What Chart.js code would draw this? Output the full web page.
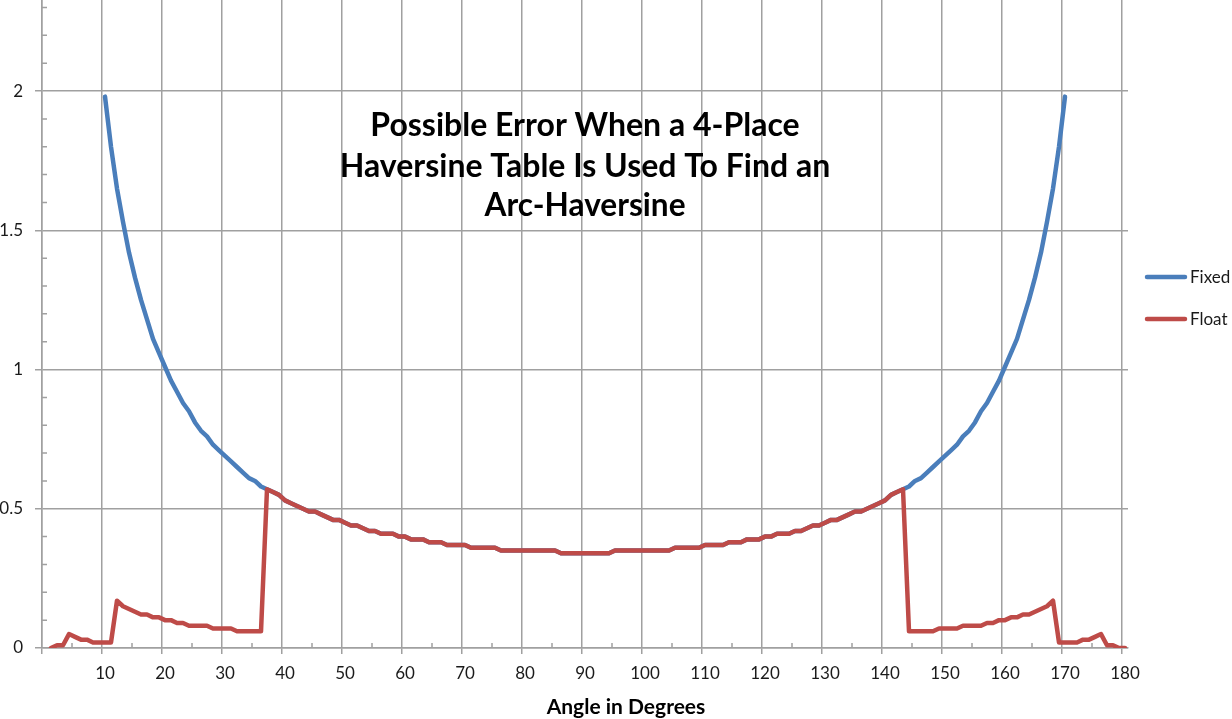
<!DOCTYPE html>
<html>
<head>
<meta charset="utf-8">
<title>Haversine table error</title>
<script src="https://cdn.jsdelivr.net/npm/chart.js@4.4.1/dist/chart.umd.min.js"></script>
<style>
  html, body { margin: 0; padding: 0; background: #fff; overflow: hidden; }
  #wrap { position: relative; width: 1232px; height: 719px; }
</style>
</head>
<body>
<div id="wrap"><canvas id="chart"></canvas></div>
<script>
// categories: angle in degrees, 0..180
const angles = [
  0, 1, 2, 3, 4, 5, 6, 7, 8, 9, 10, 11, 12, 13, 14, 15, 16, 17, 18, 19,
  20, 21, 22, 23, 24, 25, 26, 27, 28, 29, 30, 31, 32, 33, 34, 35, 36, 37, 38, 39,
  40, 41, 42, 43, 44, 45, 46, 47, 48, 49, 50, 51, 52, 53, 54, 55, 56, 57, 58, 59,
  60, 61, 62, 63, 64, 65, 66, 67, 68, 69, 70, 71, 72, 73, 74, 75, 76, 77, 78, 79,
  80, 81, 82, 83, 84, 85, 86, 87, 88, 89, 90, 91, 92, 93, 94, 95, 96, 97, 98, 99,
  100, 101, 102, 103, 104, 105, 106, 107, 108, 109, 110, 111, 112, 113, 114, 115, 116, 117, 118, 119,
  120, 121, 122, 123, 124, 125, 126, 127, 128, 129, 130, 131, 132, 133, 134, 135, 136, 137, 138, 139,
  140, 141, 142, 143, 144, 145, 146, 147, 148, 149, 150, 151, 152, 153, 154, 155, 156, 157, 158, 159,
  160, 161, 162, 163, 164, 165, 166, 167, 168, 169, 170, 171, 172, 173, 174, 175, 176, 177, 178, 179,
  180
];

// "Fixed" series, angles 10..170
const fixedStart = 10;
const fixedError = [
  1.98, 1.80, 1.65, 1.53, 1.42, 1.33, 1.25, 1.18, 1.11, 1.06,
  1.01, 0.96, 0.92, 0.88, 0.85, 0.81, 0.78, 0.76, 0.73, 0.71,
  0.69, 0.67, 0.65, 0.63, 0.61, 0.60, 0.58, 0.57, 0.56, 0.55,
  0.53, 0.52, 0.51, 0.50, 0.49, 0.49, 0.48, 0.47, 0.46, 0.46,
  0.45, 0.44, 0.44, 0.43, 0.42, 0.42, 0.41, 0.41, 0.41, 0.40,
  0.40, 0.39, 0.39, 0.39, 0.38, 0.38, 0.38, 0.37, 0.37, 0.37,
  0.37, 0.36, 0.36, 0.36, 0.36, 0.36, 0.35, 0.35, 0.35, 0.35,
  0.35, 0.35, 0.35, 0.35, 0.35, 0.35, 0.34, 0.34, 0.34, 0.34,
  0.34, 0.34, 0.34, 0.34, 0.34, 0.35, 0.35, 0.35, 0.35, 0.35,
  0.35, 0.35, 0.35, 0.35, 0.35, 0.36, 0.36, 0.36, 0.36, 0.36,
  0.37, 0.37, 0.37, 0.37, 0.38, 0.38, 0.38, 0.39, 0.39, 0.39,
  0.40, 0.40, 0.41, 0.41, 0.41, 0.42, 0.42, 0.43, 0.44, 0.44,
  0.45, 0.46, 0.46, 0.47, 0.48, 0.49, 0.49, 0.50, 0.51, 0.52,
  0.53, 0.55, 0.56, 0.57, 0.58, 0.60, 0.61, 0.63, 0.65, 0.67,
  0.69, 0.71, 0.73, 0.76, 0.78, 0.81, 0.85, 0.88, 0.92, 0.96,
  1.01, 1.06, 1.11, 1.18, 1.25, 1.33, 1.42, 1.53, 1.65, 1.80,
  1.98
];

// "Float" series, angles 1..180
const floatStart = 1;
const floatError = [
  0.00, 0.01, 0.01, 0.05, 0.04, 0.03, 0.03, 0.02, 0.02,
  0.02, 0.02, 0.17, 0.15, 0.14, 0.13, 0.12, 0.12, 0.11, 0.11,
  0.10, 0.10, 0.09, 0.09, 0.08, 0.08, 0.08, 0.08, 0.07, 0.07,
  0.07, 0.07, 0.06, 0.06, 0.06, 0.06, 0.06, 0.57, 0.56, 0.55,
  0.53, 0.52, 0.51, 0.50, 0.49, 0.49, 0.48, 0.47, 0.46, 0.46,
  0.45, 0.44, 0.44, 0.43, 0.42, 0.42, 0.41, 0.41, 0.41, 0.40,
  0.40, 0.39, 0.39, 0.39, 0.38, 0.38, 0.38, 0.37, 0.37, 0.37,
  0.37, 0.36, 0.36, 0.36, 0.36, 0.36, 0.35, 0.35, 0.35, 0.35,
  0.35, 0.35, 0.35, 0.35, 0.35, 0.35, 0.34, 0.34, 0.34, 0.34,
  0.34, 0.34, 0.34, 0.34, 0.34, 0.35, 0.35, 0.35, 0.35, 0.35,
  0.35, 0.35, 0.35, 0.35, 0.35, 0.36, 0.36, 0.36, 0.36, 0.36,
  0.37, 0.37, 0.37, 0.37, 0.38, 0.38, 0.38, 0.39, 0.39, 0.39,
  0.40, 0.40, 0.41, 0.41, 0.41, 0.42, 0.42, 0.43, 0.44, 0.44,
  0.45, 0.46, 0.46, 0.47, 0.48, 0.49, 0.49, 0.50, 0.51, 0.52,
  0.53, 0.55, 0.56, 0.57, 0.06, 0.06, 0.06, 0.06, 0.06, 0.07,
  0.07, 0.07, 0.07, 0.08, 0.08, 0.08, 0.08, 0.09, 0.09, 0.10,
  0.10, 0.11, 0.11, 0.12, 0.12, 0.13, 0.14, 0.15, 0.17, 0.02,
  0.02, 0.02, 0.02, 0.03, 0.03, 0.04, 0.05, 0.01, 0.01, 0.00,
  0.00
];

const titleLines = ['Possible Error When a 4-Place', 'Haversine Table Is Used To Find an', 'Arc-Haversine'];
const xAxisTitle = 'Angle in Degrees';

const GRID = '#a0a0a0';
const FONT = 'Lato, "Open Sans", sans-serif';
const BLUE = '#4a7ebb';
const RED = '#be4b48';

function padSeries(values, start) {
  return angles.map((a, i) => (i >= start && i < start + values.length) ? values[i - start] : null);
}

// small tick marks inside the axes (every 0.1 on y, every 5 on x)
const minorTicks = {
  id: 'minorTicks',
  afterDraw(chart) {
    const { ctx, chartArea, scales: { x, y } } = chart;
    ctx.save();
    ctx.strokeStyle = GRID;
    ctx.lineWidth = 1.5;
    ctx.beginPath();
    for (let k = 1; k / 10 < y.max; k++) {
      if (k % 5 === 0) continue;
      const py = y.getPixelForValue(k / 10);
      ctx.moveTo(chartArea.left, py);
      ctx.lineTo(chartArea.left + 5, py);
    }
    for (let i = 5; i < angles.length; i += 10) {
      const px = (x.getPixelForValue(i - 1) + x.getPixelForValue(i)) / 2;
      ctx.moveTo(px, chartArea.bottom);
      ctx.lineTo(px, chartArea.bottom - 5);
    }
    ctx.stroke();
    ctx.restore();
  }
};

// title in the plot, axis title and legend on the right
const annotations = {
  id: 'annotations',
  afterDraw(chart) {
    const { ctx, chartArea } = chart;
    ctx.save();
    ctx.fillStyle = '#000';
    ctx.textAlign = 'center';
    ctx.textBaseline = 'alphabetic';
    ctx.font = `bold 32px ${FONT}`;
    const cx = (chartArea.left + chartArea.right) / 2;
    const baselines = [136, 177, 216];
    const widths = [434, 501, 201];
    titleLines.forEach((t, i) => ctx.fillText(t, cx, baselines[i], widths[i]));

    ctx.font = `bold 21px ${FONT}`;
    ctx.fillText(xAxisTitle, 626, 714, 162);

    ctx.textAlign = 'left';
    ctx.textBaseline = 'middle';
    ctx.font = `17px ${FONT}`;
    ctx.lineCap = 'round';
    const rows = [277, 319];
    chart.data.datasets.forEach((ds, i) => {
      ctx.strokeStyle = ds.borderColor;
      ctx.lineWidth = 4.5;
      ctx.beginPath();
      ctx.moveTo(1147, rows[i]);
      ctx.lineTo(1185, rows[i]);
      ctx.stroke();
      ctx.fillStyle = '#1a1a1a';
      ctx.fillText(ds.label, 1190, rows[i] + 1);
    });
    ctx.restore();
  }
};

new Chart(document.getElementById('chart'), {
  type: 'line',
  data: {
    labels: angles,
    datasets: [
      {
        label: 'Fixed',
        data: padSeries(fixedError, fixedStart),
        borderColor: BLUE,
        backgroundColor: BLUE,
        borderWidth: 4.5,
        pointRadius: 0,
        tension: 0,
        borderJoinStyle: 'round',
        borderCapStyle: 'round',
        order: 2
      },
      {
        label: 'Float',
        data: padSeries(floatError, floatStart),
        borderColor: RED,
        backgroundColor: RED,
        borderWidth: 4.5,
        pointRadius: 0,
        tension: 0,
        borderJoinStyle: 'round',
        borderCapStyle: 'round',
        order: 1
      }
    ]
  },
  options: {
    responsive: true,
    maintainAspectRatio: false,
    animation: false,
    layout: { padding: { top: 0, left: 0, right: 104, bottom: 0 } },
    plugins: {
      legend: { display: false },
      title: { display: false },
      tooltip: { enabled: false }
    },
    scales: {
      x: {
        type: 'category',
        offset: true,
        afterFit(scale) {
          scale.height = 71;
          scale.paddingLeft = 0;
          scale.paddingRight = 0;
        },
        border: { color: GRID, width: 1.5 },
        grid: {
          offset: true,
          lineWidth: 1.5,
          tickLength: 6,
          color: ctx => (ctx.index % 10 === 0 ? GRID : 'transparent'),
          tickColor: ctx => (ctx.index % 10 === 0 ? GRID : 'transparent')
        },
        ticks: {
          autoSkip: false,
          maxRotation: 0,
          minRotation: 0,
          padding: 9,
          color: '#1a1a1a',
          font: { family: FONT, size: 17 },
          callback: function(value) {
            const a = angles[value];
            return a % 10 === 0 && a !== 0 ? String(a) : '';
          }
        }
      },
      y: {
        min: 0,
        max: 2.327,
        afterFit(scale) {
          scale.width = 42;
          scale.paddingTop = 0;
          scale.paddingBottom = 0;
        },
        border: { color: GRID, width: 1.5 },
        grid: { color: GRID, lineWidth: 1.5, tickLength: 7 },
        ticks: {
          stepSize: 0.5,
          includeBounds: false,
          padding: 12,
          color: '#1a1a1a',
          font: { family: FONT, size: 17 },
          callback: value => String(value)
        }
      }
    }
  },
  plugins: [minorTicks, annotations]
});
</script>
</body>
</html>
